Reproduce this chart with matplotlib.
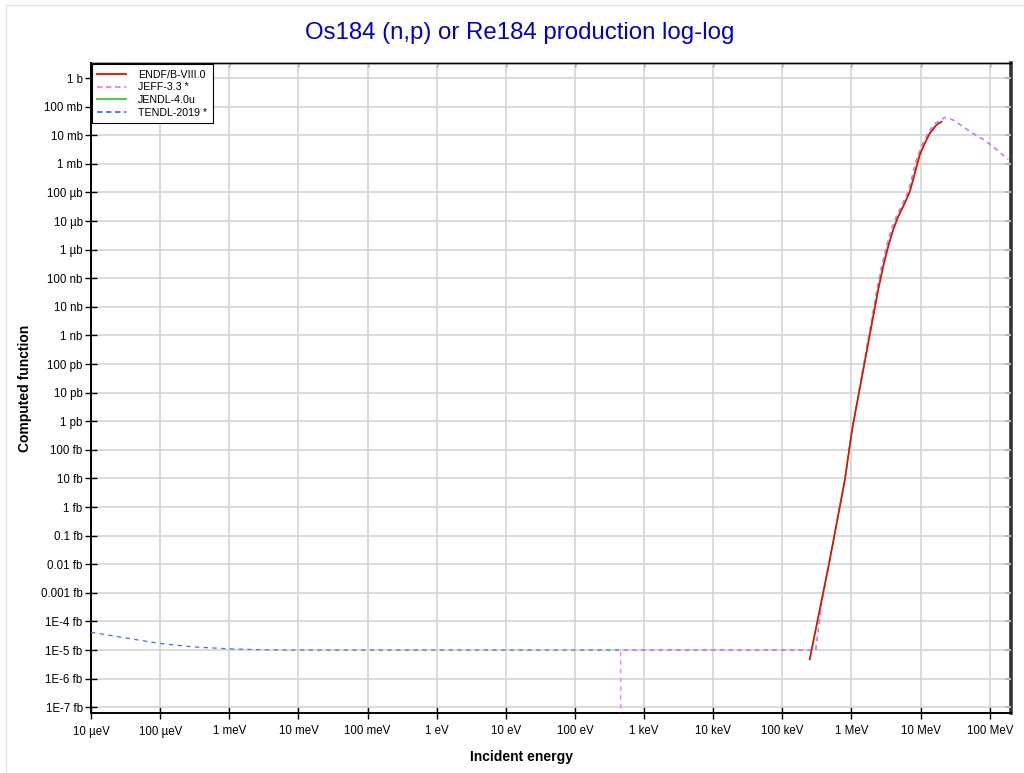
import numpy as np
import matplotlib
matplotlib.use("Agg")
import matplotlib.pyplot as plt
from matplotlib.lines import Line2D
from matplotlib.ticker import NullLocator

plt.rcParams['font.family'] = ['Liberation Sans', 'DejaVu Sans']

# ENDF/B-VIII.0 (barns vs eV)
endf_e = [2.49e5, 4.75e5, 8.02e5, 1.02e6, 2.06e6, 2.43e6, 2.87e6, 3.39e6, 4.0e6, 4.73e6,
          5.9e6, 6.97e6, 7.78e6, 8.73e6, 9.73e6, 1.15e7, 1.36e7, 1.70e7, 2.0e7]
endf_xs = [4.7e-21, 1.07e-17, 8.7e-15, 4.9e-13, 4.5e-9, 3.8e-8, 2.5e-7, 1.26e-6, 4.8e-6, 1.41e-5,
           4.2e-5, 1.05e-4, 2.7e-4, 7.9e-4, 2.04e-3, 5.2e-3, 1.17e-2, 2.3e-2, 2.95e-2]

# JEFF-3.3 : zero below ~460 eV, then flat, then the threshold rise
jeff_lo_e = [4.6e2, 4.6e2, 3.05e5, 3.75e5, 4.37e5]
jeff_lo_xs = [1e-25, 1e-20, 1e-20, 5.5e-19, 3.6e-18]
jeff_hi_e = [8.0e5, 1.02e6, 2.0e6, 2.33e6, 2.72e6, 3.2e6, 3.75e6, 4.45e6, 5.55e6, 6.6e6,
             7.35e6, 8.2e6, 9.15e6, 1.08e7, 1.28e7, 1.6e7, 2.0e7, 2.23e7, 2.95e7, 4.12e7,
             5.7e7, 8.0e7, 1.12e8, 1.55e8, 1.85e8]
jeff_hi_xs = [8.7e-15, 4.9e-13, 4.5e-9, 3.8e-8, 2.5e-7, 1.26e-6, 4.8e-6, 1.41e-5, 4.2e-5, 1.05e-4,
              2.7e-4, 7.9e-4, 2.04e-3, 5.2e-3, 1.17e-2, 2.6e-2, 3.4e-2, 4.2e-2, 3.4e-2, 2.0e-2,
              1.17e-2, 7.2e-3, 4.0e-3, 2.04e-3, 1.45e-3]

# TENDL-2019 : low energy tail, flat part, then same as JEFF
tendl_lo_e = [1e-5, 3.3e-5, 1e-4, 3e-4, 1e-3, 3e-3, 1e-2, 3.05e5, 3.75e5, 4.37e5]
tendl_lo_xs = [4.2e-20, 2.6e-20, 1.7e-20, 1.29e-20, 1.1e-20, 1.02e-20, 1.0e-20, 1e-20, 5.5e-19, 3.6e-18]

x_tick_vals = [1e-5, 1e-4, 1e-3, 1e-2, 1e-1, 1, 10, 100, 1e3, 1e4, 1e5, 1e6, 1e7, 1e8]
x_tick_labels = ['10 µeV', '100 µeV', '1 meV', '10 meV', '100 meV', '1 eV', '10 eV', '100 eV',
                 '1 keV', '10 keV', '100 keV', '1 MeV', '10 MeV', '100 MeV']
y_tick_vals = [10.0 ** -k for k in range(0, 23)]
y_tick_labels = ['1 b', '100 mb', '10 mb', '1 mb', '100 µb', '10 µb', '1 µb', '100 nb', '10 nb',
                 '1 nb', '100 pb', '10 pb', '1 pb', '100 fb', '10 fb', '1 fb', '0.1 fb', '0.01 fb',
                 '0.001 fb', '1E-4 fb', '1E-5 fb', '1E-6 fb', '1E-7 fb']

c_endf, c_jeff, c_jendl, c_tendl = '#ff0000', '#ff70ff', '#33cc33', '#3f6fff'

fig = plt.figure(figsize=(10.24, 7.73), dpi=100)
ax = fig.add_axes([91 / 1024, 1 - 713 / 773, (1010.5 - 91) / 1024, (713 - 63.3) / 773])
ax.set_xscale('log')
ax.set_yscale('log')

jeff_e = jeff_lo_e + jeff_hi_e
jeff_xs = jeff_lo_xs + jeff_hi_xs
tendl_e = tendl_lo_e + jeff_hi_e
tendl_xs = tendl_lo_xs + jeff_hi_xs

ax.plot(tendl_e, tendl_xs, color=c_tendl, lw=0.9, ls=(0, (3.5, 3.5)), zorder=3)
ax.plot(jeff_e, jeff_xs, color=c_jeff, lw=0.9, ls=(3.5, (3.5, 3.5)), zorder=3)
ax.plot(endf_e, endf_xs, color=c_jendl, lw=1.2, zorder=4)
ax.plot(endf_e, endf_xs, color=c_endf, lw=1.1, zorder=5)

ax.set_xlim(1e-5, 2e8)
ax.set_ylim(6.3e-23, 3.27)
ax.set_xticks(x_tick_vals, x_tick_labels)
ax.set_yticks(y_tick_vals, y_tick_labels)
ax.xaxis.set_minor_locator(NullLocator())
ax.yaxis.set_minor_locator(NullLocator())
ax.grid(True, color='#d4d4d4', lw=1.2)
ax.set_axisbelow(True)
ax.tick_params(axis='both', direction='inout', length=8, width=1, labelsize=8.3, colors='black')
ax.tick_params(axis='y', pad=2)
ax.tick_params(axis='x', pad=5)

for s in ['left', 'bottom']:
    ax.spines[s].set_linewidth(1.4)
ax.spines['top'].set_linewidth(1.0)
ax.spines['right'].set_visible(False)

# inward ticks on right and top
sec_y = ax.secondary_yaxis('right')
sec_y.set_yticks(y_tick_vals)
sec_y.yaxis.set_minor_locator(NullLocator())
sec_y.tick_params(direction='in', length=4, width=1.2, labelright=False)
sec_y.spines['right'].set_linewidth(2.6)
sec_y.spines['right'].set_color('#333333')
sec_x = ax.secondary_xaxis('top')
sec_x.set_xticks(x_tick_vals)
sec_x.xaxis.set_minor_locator(NullLocator())
sec_x.tick_params(direction='in', length=3, width=1, labeltop=False)
sec_x.spines['top'].set_linewidth(1.0)

handles = [Line2D([], [], color=c_endf, lw=1.3),
           Line2D([], [], color=c_jeff, lw=1.3, ls=(0, (3, 2))),
           Line2D([], [], color=c_jendl, lw=1.3),
           Line2D([], [], color=c_tendl, lw=1.3, ls=(0, (3, 2)))]
labels = ['ENDF/B-VIII.0', 'JEFF-3.3 *', 'JENDL-4.0u', 'TENDL-2019 *']
leg = ax.legend(handles, labels, loc='upper left', borderaxespad=0.1, fancybox=False,
                edgecolor='black', framealpha=1, fontsize=7.7, handlelength=2.7,
                handletextpad=1.1, labelspacing=0.25, borderpad=0.5)
leg.get_frame().set_linewidth(0.8)
leg.set_zorder(10)

fig.text(520 / 1024, 1 - 33 / 773, 'Os184 (n,p) or Re184 production log-log',
         ha='center', va='center', color='#0000cc', fontsize=17.3)
fig.text(521 / 1024, 1 - 757 / 773, 'Incident energy', ha='center', va='center',
         fontsize=10, fontweight='bold')
fig.text(25 / 1024, 1 - 388 / 773, 'Computed function', ha='center', va='center',
         rotation=90, fontsize=10, fontweight='bold')

# faint page border
fig.add_artist(Line2D([6 / 1024, 6 / 1024], [0, 1 - 5 / 773], transform=fig.transFigure,
                      color='#e6e6e6', lw=1))
fig.add_artist(Line2D([6 / 1024, 1], [1 - 5 / 773, 1 - 5 / 773], transform=fig.transFigure,
                      color='#e6e6e6', lw=1))

fig.savefig('out.png', dpi=100)
